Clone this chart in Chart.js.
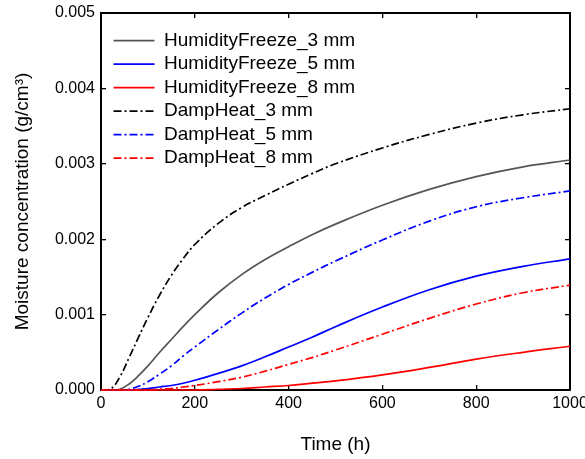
<!DOCTYPE html>
<html>
<head>
<meta charset="utf-8">
<script src="https://cdn.jsdelivr.net/npm/chart.js@4/dist/chart.umd.min.js"></script>
<style>
  html, body { margin: 0; padding: 0; background: #fff; }
  #wrap { width: 585px; height: 459px; }
</style>
</head>
<body>
<div id="wrap"><canvas id="c" width="585" height="459"></canvas></div>
<script>
// Time (h)
const times = [0, 20, 40, 60, 80, 100, 125, 150, 175, 200, 250, 300, 350, 400, 450, 500, 600, 700, 800, 900, 1000];
// Moisture concentration (g/cm3)
const humidityFreeze3 = [0, 0, 0.00001, 0.00008, 0.00019, 0.00032, 0.0005, 0.00067, 0.00084, 0.001, 0.00129, 0.00153, 0.00173, 0.0019, 0.00206, 0.0022, 0.00245, 0.00266, 0.00283, 0.00296, 0.00305];
const humidityFreeze5 = [0, 0, 0, 0, 0.00001, 0.00002, 0.00004, 0.00006, 0.00009, 0.00013, 0.00022, 0.00032, 0.00044, 0.00057, 0.0007, 0.00084, 0.0011, 0.00133, 0.00151, 0.00164, 0.00174];
const humidityFreeze8 = [0, 0, 0, 0, 0, 0, 0, 0, 0, 0, 0.00001, 0.00002, 0.00004, 0.00006, 0.00009, 0.00012, 0.0002, 0.0003, 0.00041, 0.0005, 0.00058];
const dampHeat3 = [0, 0.00001, 0.00017, 0.00043, 0.0007, 0.00096, 0.00126, 0.00152, 0.00174, 0.00193, 0.00221, 0.00242, 0.00258, 0.00273, 0.00287, 0.003, 0.00321, 0.00339, 0.00354, 0.00365, 0.00373];
const dampHeat5 = [0, 0, 0, 0.00001, 0.00005, 0.00011, 0.00021, 0.00032, 0.00045, 0.00057, 0.0008, 0.00102, 0.00122, 0.0014, 0.00156, 0.00171, 0.00199, 0.00224, 0.00243, 0.00255, 0.00264];
const dampHeat8 = [0, 0, 0, 0, 0, 0, 0.00001, 0.00002, 0.00004, 0.00006, 0.00011, 0.00017, 0.00025, 0.00034, 0.00043, 0.00053, 0.00074, 0.00095, 0.00114, 0.00129, 0.00139];

const seriesNames = ['HumidityFreeze_3 mm', 'HumidityFreeze_5 mm', 'HumidityFreeze_8 mm', 'DampHeat_3 mm', 'DampHeat_5 mm', 'DampHeat_8 mm'];
const seriesValues = [humidityFreeze3, humidityFreeze5, humidityFreeze8, dampHeat3, dampHeat5, dampHeat8];
const seriesColors = ['#555555', '#0000ff', '#ff0000', '#000000', '#0000ff', '#ff0000'];
const seriesDashed = [false, false, false, true, true, true];
const seriesOrder = [5, 4, 1, 3, 2, 0];

const xTickStep = 200, xMin = 0, xMax = 1000;
const yTickStep = 0.001, yMin = 0, yMax = 0.005;

const FONT = "'Liberation Sans', Arial, sans-serif";
Chart.defaults.font.family = FONT;
Chart.defaults.color = '#000';

const DASH = [8, 3, 2, 3];
const LW = 1.7;

const datasets = seriesNames.map((name, i) => ({
  label: name,
  data: times.map((t, j) => ({x: t, y: seriesValues[i][j]})),
  borderColor: seriesColors[i],
  backgroundColor: seriesColors[i],
  borderWidth: LW,
  borderDash: seriesDashed[i] ? DASH : [],
  pointRadius: 0,
  tension: 0.4,
  fill: false,
  clip: 4,
  order: seriesOrder[i]
}));

function zeroPad(s) { s.paddingLeft = 0; s.paddingRight = 0; s.paddingTop = 0; s.paddingBottom = 0; }

const gridOpts = { drawOnChartArea: false, drawTicks: true, tickLength: -5, color: '#000', lineWidth: 1.3 };
const borderOpts = { display: true, color: '#000', width: 2 };

const legendPlace = {
  id: 'legendPlace',
  beforeDraw(chart) {
    const lg = chart.legend;
    if (!lg) return;
    lg.left = 109;
    lg.top = 26.7;
    lg.right = lg.left + 400;
    lg.bottom = lg.top + 300;
  }
};

new Chart(document.getElementById('c'), {
  type: 'line',
  data: { datasets },
  plugins: [legendPlace],
  options: {
    responsive: false,
    animation: false,
    layout: { padding: { left: 0, right: 15, top: 13, bottom: 0 } },
    plugins: {
      tooltip: { enabled: false },
      legend: {
        position: 'chartArea',
        align: 'start',
        labels: {
          usePointStyle: true,
          pointStyle: 'line',
          pointStyleWidth: 41,
          boxHeight: 19,
          padding: 4.5,
          font: { size: 19, family: FONT },
          color: '#000',
          generateLabels(chart) {
            const items = Chart.defaults.plugins.legend.labels.generateLabels(chart);
            items.forEach(it => {
              const ds = chart.data.datasets[it.datasetIndex];
              it.lineDash = ds.borderDash;
              it.lineWidth = LW;
              it.strokeStyle = ds.borderColor;
            });
            return items;
          },
          sort: (a, b) => a.datasetIndex - b.datasetIndex
        }
      }
    },
    scales: {
      x: {
        type: 'linear', position: 'bottom', min: xMin, max: xMax,
        ticks: { stepSize: xTickStep, padding: 9, font: { size: 16 }, color: '#000', maxRotation: 0, callback: v => String(v) },
        grid: gridOpts, border: borderOpts,
        title: { display: true, text: 'Time (h)', font: { size: 19 }, color: '#000', padding: { top: 0, bottom: 3 } },
        afterFit(s) { s.height = 69; zeroPad(s); }
      },
      x2: {
        type: 'linear', position: 'top', min: xMin, max: xMax,
        ticks: { stepSize: xTickStep, display: false },
        grid: gridOpts, border: borderOpts,
        afterFit(s) { s.height = 0; zeroPad(s); }
      },
      y: {
        type: 'linear', position: 'left', min: yMin, max: yMax,
        ticks: { stepSize: yTickStep, padding: 11, font: { size: 16 }, color: '#000', callback: v => v.toFixed(3) },
        grid: gridOpts, border: borderOpts,
        title: { display: true, text: 'Moisture concentration (g/cm³)', font: { size: 19 }, color: '#000', padding: { top: 11.5, bottom: 0 } },
        afterFit(s) { s.width = 101; zeroPad(s); }
      },
      y2: {
        type: 'linear', position: 'right', min: yMin, max: yMax,
        ticks: { stepSize: yTickStep, display: false },
        grid: gridOpts, border: borderOpts,
        afterFit(s) { s.width = 0; zeroPad(s); }
      }
    }
  }
});
</script>
</body>
</html>
